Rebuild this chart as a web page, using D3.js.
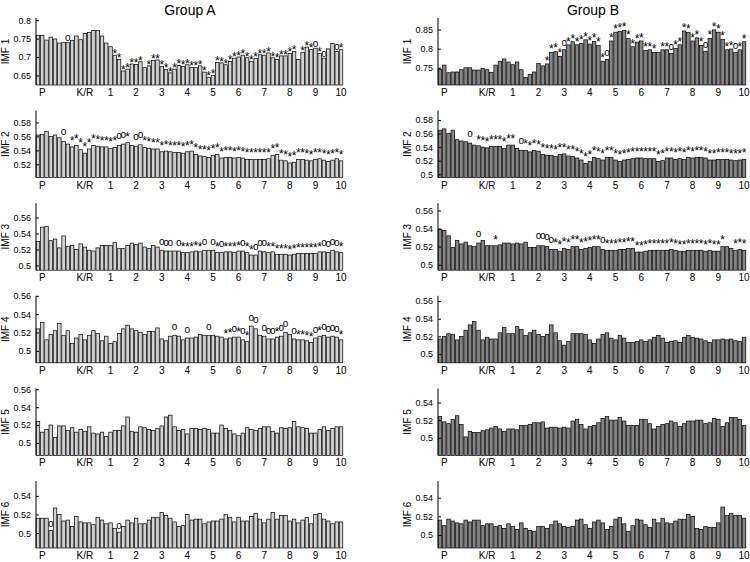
<!DOCTYPE html>
<html><head><meta charset="utf-8">
<script src="https://cdn.jsdelivr.net/npm/d3@7/dist/d3.min.js"></script>
<style>body{margin:0;background:#fff}svg{display:block;font-family:"Liberation Sans",Arial,sans-serif}</style>
</head><body><svg id="c" width="750" height="562"></svg>
<script>
const groups = ["Group A", "Group B"];
const rowLabels = ["IMF 1","IMF 2","IMF 3","IMF 4","IMF 5","IMF 6"];
const xTickLabels = ["P","K/R","1","2","3","4","5","6","7","8","9","10"];
const xTickBins = [1,11,17,23,29,35,41,47,53,59,65,71];

const imf1A = [0.759,0.759,0.746,0.754,0.749,0.738,0.74,0.74,0.745,0.757,0.747,0.764,0.767,0.772,0.772,0.757,0.738,0.728,0.705,0.693,0.662,0.667,0.681,0.68,0.687,0.671,0.676,0.691,0.692,0.674,0.666,0.657,0.667,0.677,0.674,0.679,0.672,0.671,0.676,0.659,0.645,0.65,0.685,0.684,0.679,0.688,0.697,0.70,0.705,0.698,0.688,0.696,0.706,0.705,0.711,0.698,0.693,0.703,0.703,0.71,0.715,0.693,0.712,0.727,0.72,0.724,0.71,0.697,0.722,0.737,0.715,0.72];
const imf1B = [0.746,0.757,0.737,0.739,0.739,0.745,0.75,0.75,0.744,0.744,0.748,0.745,0.738,0.757,0.767,0.773,0.765,0.758,0.765,0.745,0.725,0.733,0.739,0.761,0.755,0.76,0.79,0.792,0.78,0.797,0.81,0.818,0.81,0.813,0.823,0.812,0.819,0.808,0.767,0.772,0.82,0.843,0.845,0.847,0.826,0.805,0.817,0.82,0.795,0.797,0.79,0.79,0.797,0.797,0.787,0.8,0.81,0.846,0.842,0.82,0.828,0.808,0.793,0.827,0.849,0.843,0.824,0.797,0.799,0.79,0.797,0.818];
const imf2A = [0.562,0.563,0.567,0.56,0.562,0.558,0.553,0.549,0.545,0.547,0.541,0.536,0.542,0.547,0.546,0.545,0.545,0.543,0.544,0.547,0.549,0.551,0.547,0.546,0.548,0.544,0.543,0.542,0.542,0.538,0.539,0.538,0.537,0.537,0.536,0.538,0.539,0.534,0.532,0.531,0.53,0.533,0.534,0.529,0.53,0.53,0.529,0.53,0.529,0.527,0.527,0.527,0.527,0.527,0.528,0.533,0.534,0.526,0.525,0.522,0.523,0.527,0.527,0.526,0.525,0.527,0.528,0.526,0.524,0.526,0.528,0.525];
const imf2B = [0.565,0.567,0.56,0.565,0.551,0.549,0.548,0.546,0.543,0.542,0.54,0.539,0.541,0.541,0.541,0.538,0.543,0.543,0.538,0.535,0.535,0.533,0.535,0.534,0.529,0.528,0.528,0.526,0.529,0.53,0.527,0.526,0.524,0.521,0.516,0.519,0.525,0.523,0.521,0.525,0.525,0.521,0.519,0.521,0.522,0.523,0.524,0.524,0.523,0.523,0.523,0.519,0.52,0.524,0.524,0.522,0.523,0.522,0.525,0.524,0.525,0.525,0.524,0.521,0.521,0.522,0.522,0.522,0.521,0.52,0.521,0.522];
const imf3A = [0.53,0.548,0.549,0.531,0.533,0.522,0.537,0.524,0.525,0.52,0.527,0.523,0.519,0.518,0.522,0.525,0.525,0.525,0.529,0.521,0.521,0.525,0.528,0.526,0.528,0.523,0.521,0.525,0.523,0.519,0.518,0.518,0.518,0.518,0.516,0.516,0.517,0.518,0.517,0.519,0.519,0.519,0.516,0.516,0.517,0.517,0.516,0.518,0.518,0.516,0.513,0.513,0.518,0.517,0.516,0.517,0.514,0.514,0.514,0.513,0.514,0.515,0.515,0.515,0.515,0.515,0.517,0.517,0.516,0.519,0.517,0.516];
const imf3B = [0.539,0.538,0.532,0.519,0.527,0.523,0.525,0.521,0.52,0.524,0.527,0.521,0.521,0.521,0.522,0.524,0.524,0.523,0.524,0.523,0.525,0.519,0.519,0.521,0.521,0.52,0.517,0.517,0.515,0.518,0.517,0.52,0.52,0.517,0.518,0.519,0.52,0.52,0.517,0.516,0.516,0.516,0.517,0.517,0.518,0.518,0.514,0.514,0.515,0.516,0.516,0.516,0.516,0.516,0.517,0.516,0.515,0.515,0.516,0.516,0.516,0.516,0.515,0.516,0.515,0.515,0.52,0.52,0.518,0.516,0.517,0.516];
const imf4A = [0.524,0.531,0.512,0.518,0.522,0.53,0.517,0.522,0.508,0.514,0.518,0.512,0.517,0.522,0.519,0.511,0.516,0.508,0.51,0.519,0.524,0.528,0.524,0.522,0.52,0.518,0.521,0.521,0.525,0.513,0.511,0.516,0.517,0.516,0.512,0.514,0.514,0.515,0.518,0.517,0.517,0.517,0.516,0.515,0.513,0.514,0.515,0.515,0.512,0.51,0.527,0.524,0.517,0.516,0.513,0.513,0.515,0.516,0.52,0.518,0.513,0.512,0.512,0.511,0.509,0.514,0.516,0.517,0.515,0.516,0.515,0.512];
const imf4B = [0.517,0.52,0.523,0.522,0.516,0.52,0.527,0.533,0.537,0.527,0.516,0.519,0.517,0.517,0.524,0.53,0.523,0.523,0.531,0.528,0.521,0.524,0.527,0.522,0.52,0.522,0.533,0.524,0.515,0.51,0.514,0.523,0.523,0.523,0.522,0.516,0.512,0.517,0.522,0.524,0.518,0.516,0.521,0.518,0.513,0.513,0.514,0.516,0.514,0.516,0.519,0.521,0.518,0.513,0.514,0.515,0.513,0.519,0.521,0.519,0.518,0.517,0.515,0.513,0.516,0.516,0.517,0.516,0.517,0.515,0.514,0.519];
const imf5A = [0.524,0.512,0.515,0.52,0.506,0.519,0.519,0.514,0.517,0.512,0.515,0.513,0.518,0.511,0.51,0.512,0.507,0.512,0.514,0.514,0.519,0.529,0.513,0.512,0.518,0.517,0.515,0.514,0.516,0.519,0.529,0.531,0.518,0.514,0.515,0.51,0.516,0.516,0.515,0.516,0.515,0.511,0.511,0.52,0.516,0.514,0.51,0.508,0.511,0.517,0.515,0.514,0.516,0.518,0.518,0.513,0.511,0.517,0.516,0.517,0.524,0.518,0.517,0.516,0.511,0.511,0.515,0.518,0.514,0.516,0.518,0.518];
const imf5B = [0.524,0.518,0.516,0.521,0.525,0.515,0.501,0.507,0.506,0.506,0.508,0.509,0.511,0.513,0.51,0.507,0.51,0.51,0.509,0.514,0.514,0.515,0.517,0.517,0.518,0.511,0.512,0.512,0.511,0.512,0.511,0.519,0.521,0.515,0.51,0.513,0.514,0.517,0.522,0.524,0.52,0.52,0.523,0.519,0.514,0.514,0.514,0.521,0.521,0.516,0.51,0.513,0.515,0.516,0.519,0.517,0.513,0.516,0.519,0.519,0.52,0.52,0.516,0.517,0.522,0.521,0.513,0.517,0.523,0.523,0.521,0.514];
const imf6A = [0.516,0.516,0.516,0.503,0.527,0.52,0.513,0.514,0.507,0.518,0.512,0.511,0.511,0.509,0.517,0.514,0.51,0.511,0.505,0.501,0.507,0.514,0.511,0.516,0.51,0.51,0.514,0.517,0.517,0.522,0.519,0.516,0.512,0.507,0.508,0.52,0.514,0.515,0.515,0.51,0.512,0.513,0.513,0.515,0.52,0.517,0.512,0.517,0.513,0.513,0.518,0.521,0.515,0.511,0.515,0.522,0.515,0.519,0.519,0.513,0.515,0.511,0.514,0.517,0.51,0.52,0.521,0.515,0.513,0.51,0.512,0.512];
const imf6B = [0.516,0.51,0.517,0.515,0.513,0.512,0.516,0.514,0.516,0.516,0.51,0.512,0.512,0.509,0.51,0.507,0.512,0.509,0.506,0.513,0.507,0.505,0.504,0.509,0.509,0.507,0.511,0.515,0.512,0.509,0.508,0.509,0.516,0.517,0.511,0.507,0.514,0.516,0.513,0.506,0.509,0.517,0.519,0.512,0.504,0.51,0.517,0.516,0.511,0.508,0.517,0.513,0.518,0.513,0.512,0.515,0.517,0.517,0.522,0.52,0.507,0.506,0.509,0.508,0.508,0.513,0.53,0.521,0.523,0.521,0.521,0.518];

// significance marks per bar ("*", "o", "." = none), written in groups of six bars
const sig1A = "......|.o....|......|******|*.****|******|******|******|******|******|*.***o|*o..o*";
const sig1B = "......|......|......|......|.****o|******|***o**|******|***.**|o*****|**o***|***o**";
const sig2A = "......|o.****|******|*oo*.o|o*****|******|******|******|******|******|******|******";
const sig2B = "......|.o.***|******|.o****|******|******|******|******|******|******|******|******";
const sig3A = "......|......|......|......|.....o|oo.o**|***o.o|*o****|o**ooo|******|******|*oooo*";
const sig3B = "......|...o..|.*....|.....o|ooo***|******|**o***|******|******|******|******|*..***";
const sig4A = "......|......|......|......|......|..o..o|....o.|..**o*|o*oo.o|oo*oo.|o****o|*oooo*";
const sig4B = "";
const sig5A = "";
const sig5B = "";
const sig6A = "...o..|......|......|.o....";
const sig6B = "";

const yTicks1A = [0.65,0.7,0.75,0.8], yTicks1B = [0.75,0.8,0.85];
const yTicks2A = [0.52,0.54,0.56,0.58], yTicks2B = [0.5,0.52,0.54,0.56,0.58];
const yTicks3 = [0.5,0.52,0.54,0.56], yTicks4 = [0.5,0.52,0.54,0.56], yTicks5A = [0.5,0.52,0.54,0.56];
const yTicks5B = [0.5,0.52,0.54], yTicks6 = [0.5,0.52,0.54];

const domains = {
  A: [[0.624,0.806],[0.501,0.597],[0.494,0.578],[0.487,0.56],[0.486,0.561],[0.484,0.556]],
  B: [[0.705,0.88],[0.495,0.594],[0.494,0.568],[0.49,0.566],[0.48,0.556],[0.486,0.558]]
};
const series = {A:[imf1A,imf2A,imf3A,imf4A,imf5A,imf6A], B:[imf1B,imf2B,imf3B,imf4B,imf5B,imf6B]};
const sigs = {A:[sig1A,sig2A,sig3A,sig4A,sig5A,sig6A], B:[sig1B,sig2B,sig3B,sig4B,sig5B,sig6B]};
const ticks = {A:[yTicks1A,yTicks2A,yTicks3,yTicks4,yTicks5A,yTicks6], B:[yTicks1B,yTicks2B,yTicks3,yTicks4,yTicks5B,yTicks6]};
const markLift = {A:[4,9,8,8,0,6], B:[6,9,9,0,0,0]};

const svg = d3.select("#c");
const colX = {A:[36,343], B:[438,746]};
const fills = {A:"#d2d2d2", B:"#858585"};
const panelH = 67, bot0 = 85, step = 92.6;
const FF = "Liberation Sans, Arial, sans-serif";

svg.append("text").attr("x",190).attr("y",15).attr("text-anchor","middle").attr("font-size",14).text(groups[0]);
svg.append("text").attr("x",593).attr("y",15).attr("text-anchor","middle").attr("font-size",14).text(groups[1]);

["A","B"].forEach(g => {
  const n = series[g][0].length;
  const x = d3.scaleBand().domain(d3.range(n)).range(colX[g]).paddingInner(0.18).paddingOuter(0.05);
  for (let r = 0; r < 6; r++) {
    const bot = bot0 + step*r, top = bot - panelH;
    const y = d3.scaleLinear().domain(domains[g][r]).range([bot, top]);
    const gp = svg.append("g");
    const data = series[g][r];
    gp.selectAll("rect").data(data).join("rect")
      .attr("x",(d,i)=>x(i)).attr("width",x.bandwidth())
      .attr("y",d=>y(d)).attr("height",d=>bot-y(d))
      .attr("fill",fills[g]).attr("stroke","#000").attr("stroke-width",0.7);
    const ax = d3.axisLeft(y).tickValues(ticks[g][r]).tickSize(-3).tickPadding(5).tickFormat(d=>String(+d.toFixed(3)));
    const axg = gp.append("g").attr("transform",`translate(${colX[g][0]},0)`).call(ax);
    axg.select(".domain").attr("d",`M0,${top}V${bot}`).attr("stroke","#000");
    axg.selectAll("text").attr("font-size",9).attr("font-family",FF).attr("fill","#000");
    gp.append("text").attr("transform",`translate(${colX[g][0]-27},${(top+bot)/2}) rotate(-90)`)
      .attr("text-anchor","middle").attr("font-size",10).text(rowLabels[r]);
    gp.selectAll("text.xl").data(xTickLabels).join("text").attr("class","xl")
      .attr("x",(d,i)=>x(xTickBins[i])+x.bandwidth()/2).attr("y",bot+11)
      .attr("text-anchor","middle").attr("font-size",10).text(d=>d);
    const marks = sigs[g][r].replace(/\|/g,"").split("").map((c,i)=>({c,i})).filter(m=>m.c==="*"||m.c==="o");
    const lift = markLift[g][r];
    gp.selectAll("text.sg").data(marks).join("text").attr("class","sg")
      .attr("x",m=>x(m.i)+x.bandwidth()/2)
      .attr("y",m=>y(data[m.i]) - lift + (m.c==="o" ? 2.6 : 6.8))
      .attr("text-anchor","middle").attr("font-size",m=>m.c==="o"?10:12).text(m=>m.c);
  }
});
</script></body></html>
